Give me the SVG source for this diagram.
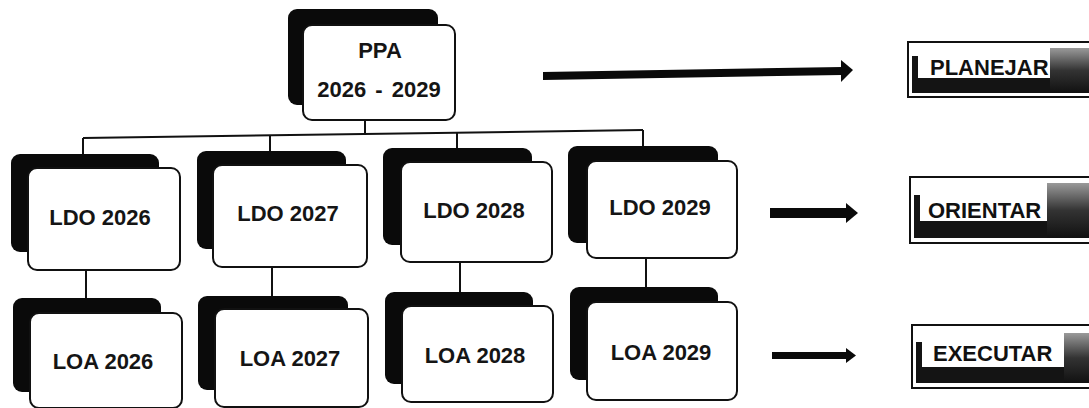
<svg xmlns="http://www.w3.org/2000/svg" width="1089" height="408" viewBox="0 0 1089 408">
<style>
.sh{fill:#0a0a0a}
.bx{fill:#fff;stroke:#111;stroke-width:2}
.t{font-family:"Liberation Sans",Arial,sans-serif;font-weight:bold;font-size:22px;fill:#151515;text-anchor:middle}
.lt{font-family:"Liberation Sans",Arial,sans-serif;font-weight:bold;font-size:22px;fill:#111}
.ln{fill:none;stroke:#111;stroke-width:2}
.ar{fill:#0a0a0a}
.fr{fill:#fff;stroke:#111;stroke-width:2}
.dk{fill:#141414}
</style>
<defs>
<linearGradient id="gr" x1="0" y1="0" x2="0" y2="1">
<stop offset="0" stop-color="#9a9a9a"/>
<stop offset="0.5" stop-color="#333"/>
<stop offset="1" stop-color="#111"/>
</linearGradient>
</defs>
<rect width="1089" height="408" fill="#fff"/>

<g id="connectors">
<polyline class="ln" points="365,120 365,135"/>
<line class="ln" x1="83" y1="138" x2="643" y2="130"/>
<line class="ln" x1="83" y1="138" x2="83" y2="156"/>
<line class="ln" x1="270" y1="135" x2="270" y2="153"/>
<line class="ln" x1="457" y1="133" x2="457" y2="150"/>
<line class="ln" x1="643" y1="130" x2="643" y2="148"/>
<line class="ln" x1="86" y1="269" x2="86" y2="300"/>
<line class="ln" x1="272" y1="267" x2="272" y2="298"/>
<line class="ln" x1="460" y1="262" x2="460" y2="294"/>
<line class="ln" x1="646" y1="258" x2="646" y2="289"/>
<g id="arrow-planejar">
<polygon class="ar" points="543,72 842,67 842,75 543,80"/>
<polygon class="ar" points="841,60 853,70 841,82"/>
</g>
<g id="arrow-orientar">
<rect class="ar" x="770" y="208" width="78" height="10"/>
<polygon class="ar" points="846,203 858,213 846,223"/>
</g>
<g id="arrow-executar">
<rect class="ar" x="772" y="352" width="76" height="7"/>
<polygon class="ar" points="846,348 856,355.5 846,363"/>
</g>
</g>

<g id="ppa">
<rect class="sh" x="288" y="9" width="150" height="96" rx="9"/>
<rect class="bx" x="303" y="25" width="152" height="95" rx="9"/>
<text class="t" x="380" y="58">PPA</text>
<text class="t" x="379" y="97" word-spacing="3">2026 - 2029</text>
</g>

<g id="ldo2026">
<rect class="sh" x="11" y="154" width="148" height="98" rx="9"/>
<rect class="bx" x="28" y="168" width="152" height="102" rx="9"/>
<text class="t" x="100" y="225">LDO 2026</text>
</g>
<g id="ldo2027">
<rect class="sh" x="197" y="151" width="149" height="98" rx="9"/>
<rect class="bx" x="213" y="165" width="154" height="102" rx="9"/>
<text class="t" x="288" y="221">LDO 2027</text>
</g>
<g id="ldo2028">
<rect class="sh" x="383" y="148" width="149" height="97" rx="9"/>
<rect class="bx" x="401" y="162" width="151" height="100" rx="9"/>
<text class="t" x="474" y="218">LDO 2028</text>
</g>
<g id="ldo2029">
<rect class="sh" x="568" y="146" width="150" height="97" rx="9"/>
<rect class="bx" x="587" y="161" width="150" height="97" rx="9"/>
<text class="t" x="660" y="215">LDO 2029</text>
</g>

<g id="loa2026">
<rect class="sh" x="13" y="298" width="148" height="94" rx="9"/>
<rect class="bx" x="30" y="313" width="152" height="95" rx="9"/>
<text class="t" x="103" y="369">LOA 2026</text>
</g>
<g id="loa2027">
<rect class="sh" x="198" y="296" width="150" height="94" rx="9"/>
<rect class="bx" x="215" y="309" width="153" height="98" rx="9"/>
<text class="t" x="290" y="366">LOA 2027</text>
</g>
<g id="loa2028">
<rect class="sh" x="385" y="292" width="148" height="92" rx="9"/>
<rect class="bx" x="402" y="306" width="151" height="96" rx="9"/>
<text class="t" x="475" y="363">LOA 2028</text>
</g>
<g id="loa2029">
<rect class="sh" x="570" y="287" width="148" height="93" rx="9"/>
<rect class="bx" x="587" y="302" width="150" height="98" rx="9"/>
<text class="t" x="661" y="360">LOA 2029</text>
</g>

<g id="planejar">
<rect class="fr" x="908" y="42" width="200" height="55"/>
<rect class="dk" x="912" y="56" width="6" height="37"/>
<rect class="dk" x="912" y="78" width="177" height="15"/>
<rect fill="url(#gr)" x="1050" y="48" width="39" height="45"/>
<rect fill="#fff" x="922" y="54" width="126" height="24"/>
<text class="lt" x="930" y="75">PLANEJAR</text>
</g>
<g id="orientar">
<rect class="fr" x="910" y="177" width="200" height="66"/>
<rect class="dk" x="914" y="195" width="6" height="43"/>
<rect class="dk" x="914" y="221" width="175" height="17"/>
<rect fill="url(#gr)" x="1047" y="183" width="42" height="55"/>
<rect fill="#fff" x="921" y="196" width="125" height="25"/>
<text class="lt" x="928" y="218">ORIENTAR</text>
</g>
<g id="executar">
<rect class="fr" x="912" y="325" width="200" height="63"/>
<rect class="dk" x="916" y="342" width="6" height="41"/>
<rect class="dk" x="916" y="367" width="173" height="16"/>
<rect fill="url(#gr)" x="1064" y="333" width="25" height="50"/>
<rect fill="#fff" x="925" y="340" width="138" height="27"/>
<text class="lt" x="933" y="361" font-size="23">EXECUTAR</text>
</g>
</svg>
